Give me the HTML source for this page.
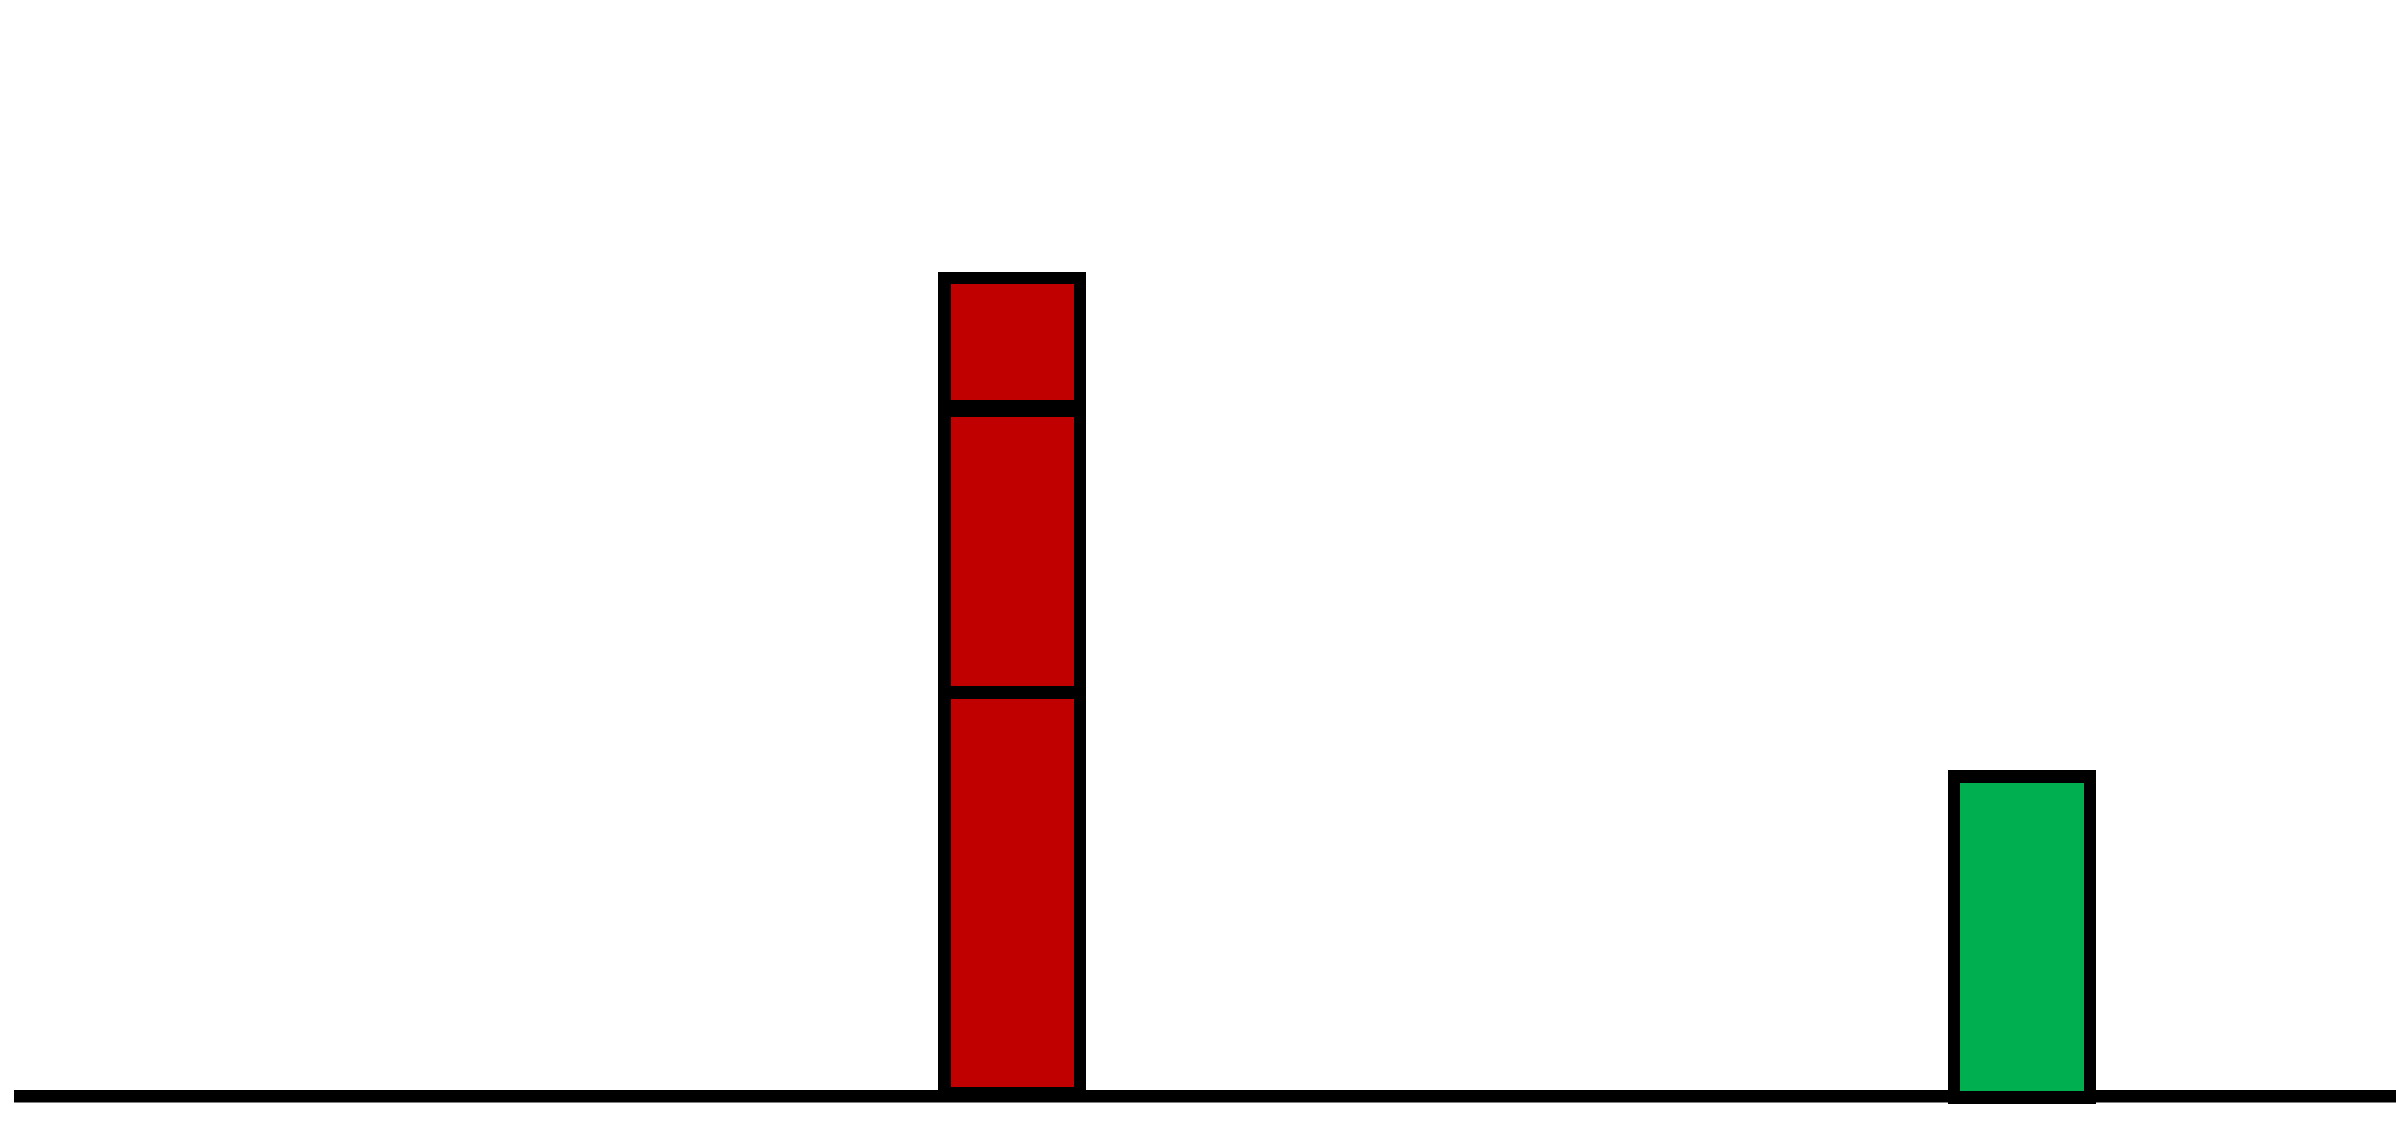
<!DOCTYPE html>
<html lang="en">
<head>
<meta charset="utf-8">
<title>Stacked bars</title>
<style>
  html, body { margin: 0; padding: 0; background: #ffffff; }
  body { width: 2396px; height: 1135px; overflow: hidden; }
  svg { display: block; }
</style>
</head>
<body>
<svg id="chart" xmlns="http://www.w3.org/2000/svg" width="2396" height="1135" viewBox="0 0 2396 1135">
  <rect x="0" y="0" width="2396" height="1135" fill="#ffffff"></rect>
  <g id="bars"></g>
  <rect x="14" y="1090" width="2382" height="12.5" fill="#000000"></rect>
  <g id="front-bars"></g>
</svg>
<script>
// Data values (arbitrary units above the axis)
const categories = ['red-stack', 'green-stack'];
const redSegmentLows = [0.025, 4.035, 6.90];
const redSegmentHighs = [4.035, 6.85, 8.18];
const greenSegmentLows = [-0.015];
const greenSegmentHighs = [3.195];

// Axis functions
function yScale(value) {
  return 1096 - value * 100;
}
function xCenter(index) {
  return 1012.4 + index * 1009.6;
}

const SVG_NS = 'http://www.w3.org/2000/svg';
const outerHalfWidth = 74;
const innerHalfWidth = 61.75;
const borderHalf = 6.25;

function box(parent, left, top, right, bottom, fill, name) {
  const rect = document.createElementNS(SVG_NS, 'rect');
  const x0 = Math.round(left);
  const y0 = Math.round(top);
  rect.setAttribute('x', x0);
  rect.setAttribute('y', y0);
  rect.setAttribute('width', Math.round(right) - x0);
  rect.setAttribute('height', Math.round(bottom) - y0);
  rect.setAttribute('fill', fill);
  
  
  parent.appendChild(rect);
}

function drawSegment(parent, categoryIndex, low, high, fill, name) {
  const cx = xCenter(categoryIndex);
  const top = yScale(high);
  const bottom = yScale(low);
  box(parent, cx - outerHalfWidth, top - borderHalf, cx + outerHalfWidth, bottom + borderHalf, '#000000', name + '-border');
  box(parent, cx - innerHalfWidth, top + borderHalf, cx + innerHalfWidth, bottom - borderHalf, fill, name);
}

const barsGroup = document.getElementById('bars');
const frontGroup = document.getElementById('front-bars');

redSegmentLows.forEach(function (low, i) {
  drawSegment(barsGroup, categories.indexOf('red-stack'), low, redSegmentHighs[i], '#C00000', 'red-bar-segment-' + (i + 1));
});

greenSegmentLows.forEach(function (low, i) {
  drawSegment(frontGroup, categories.indexOf('green-stack'), low, greenSegmentHighs[i], '#00B050', 'green-bar-segment-' + (i + 1));
});
</script>
</body>
</html>
